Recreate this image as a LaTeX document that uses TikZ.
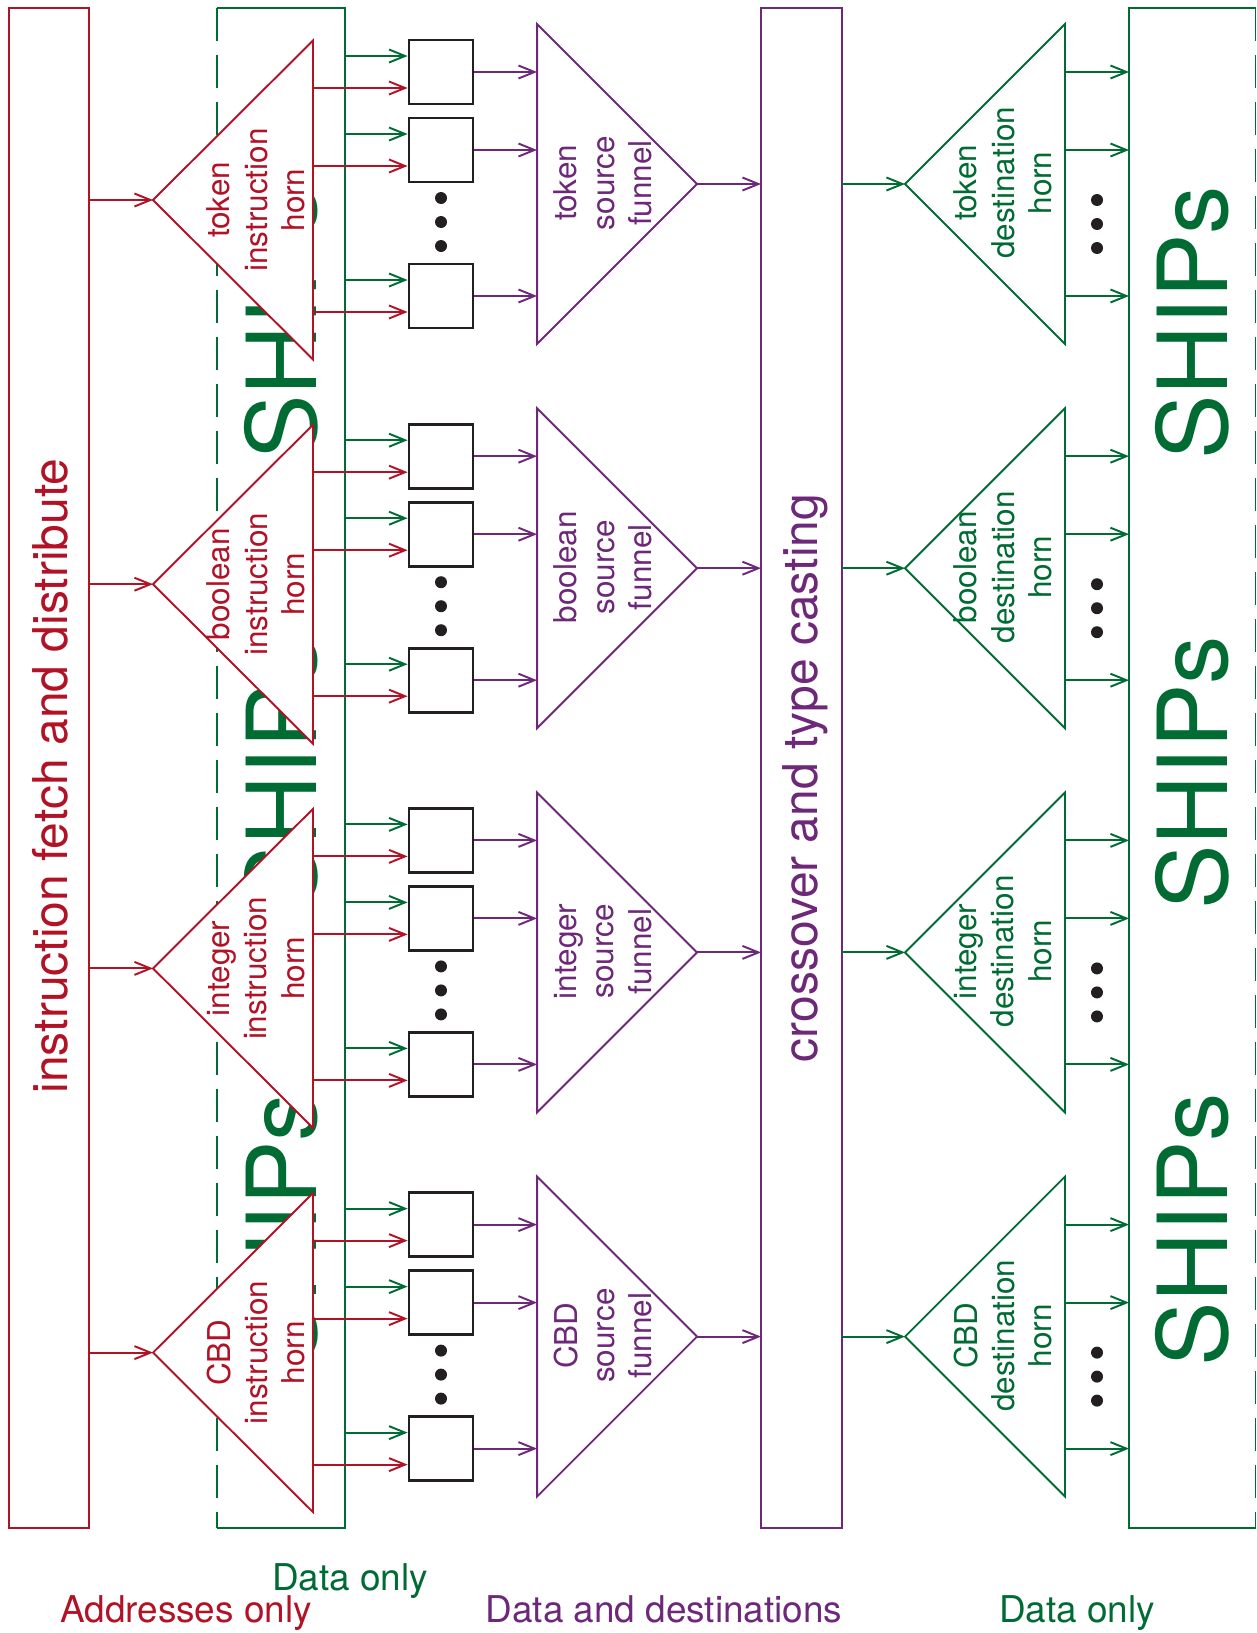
\documentclass[tikz,border=0pt]{standalone}
\usepackage{fontspec}
\setmainfont{TeX Gyre Heros}
\usepackage{tikz}
\usetikzlibrary{arrows.meta, positioning, shapes.geometric}
\definecolor{addrred}{RGB}{178,18,38}
\definecolor{datagreen}{RGB}{0,107,51}
\definecolor{destpurple}{RGB}{110,40,122}
\definecolor{slotgray}{RGB}{35,31,32}

\begin{document}
\begin{tikzpicture}[x=0.02cm, y=-0.02cm,
  wire/.style={line width=1.1pt, -{Straight Barb[length=0.32cm, width=0.26cm]}},
  addr/.style={wire, addrred},
  data/.style={wire, datagreen},
  dest/.style={wire, destpurple},
  bigbox/.style={rectangle, minimum height=30.4cm, inner sep=0, outer sep=0, line width=1.1pt},
  slot/.style={rectangle, draw=slotgray, line width=1.6pt, minimum size=1.28cm, inner sep=0},
  dot/.style={circle, fill=slotgray, inner sep=0, minimum size=0.24cm},
  tri/.style={isosceles triangle, isosceles triangle stretches, inner sep=0, outer sep=0,
              minimum height=3.2cm, minimum width=6.4cm, line width=1.1pt, fill=white},
  ihorn/.style={tri, draw=addrred, shape border rotate=180, minimum width=6.38cm},
  funnel/.style={tri, draw=destpurple},
  dhorn/.style={tri, draw=datagreen, shape border rotate=180},
  trilab/.style={rotate=90, align=center, font=\fontsize{17.9}{21.3}\selectfont},
  biglab/.style={rotate=90, font=\fontsize{27.3}{32}\selectfont},
  ships/.style={rotate=90, text=datagreen, font=\fontsize{55}{60}\selectfont},
  foot/.style={anchor=base, font=\fontsize{21}{25}\selectfont}
]
\useasboundingbox (0,0) rectangle (1257,1633);

% the four long boxes
\node[bigbox, draw=addrred, minimum width=1.6cm] (fetch) at (49, 768) {};
\node[biglab, text=addrred] (fetchl) at (50, 776) {instruction fetch and distribute};

\node[bigbox, minimum width=2.56cm] (lships) at (281, 768) {};
\draw[datagreen, line width=1.1pt] (lships.north west) -| (lships.south east) -- (lships.south west);
\draw[datagreen, line width=1.1pt, dash pattern=on 0.66cm off 0.28cm] (lships.north west) -- (lships.south west);

\node[bigbox, draw=destpurple, minimum width=1.62cm] (cross) at (801.5, 768) {};
\node[biglab, text=destpurple] (crossl) at (805, 778) {crossover and type casting};

\node[bigbox, minimum width=2.53cm] (rships) at (1192.25, 768) {};
\draw[datagreen, line width=1.1pt] (rships.north east) -| (rships.south west) -- (rships.south east);
\draw[datagreen, line width=1.1pt, dash pattern=on 0.66cm off 0.28cm] (rships.north east) -- (rships.south east);

\foreach \s [count=\i] in {323, 773, 1230} {
  \node[ships] (lsh\i) at (281, \s) {SHIPs};
  \node[ships] (rsh\i) at (1192, \s) {SHIPs};
}

% one row of horn, slots, funnel and destination horn per type
\foreach \grp/\nm in {0/token, 1/boolean, 2/integer, 3/CBD} {
  \pgfmathsetmacro{\dy}{384.2*\grp}
  \node[ihorn, anchor=apex] (ih\grp) at (153, 200+\dy) {};
  \node[trilab, text=addrred] (ihl\grp) at (256, 200+\dy) {\nm\\instruction\\horn};
  \node[funnel, anchor=apex] (sf\grp) at (697, 184+\dy) {};
  \node[trilab, text=destpurple] (sfl\grp) at (603, 183+\dy) {\nm\\source\\funnel};
  \node[dhorn, anchor=apex] (dh\grp) at (905, 184+\dy) {};
  \node[trilab, text=datagreen] (dhl\grp) at (1003, 183+\dy) {\nm\\destination\\horn};

  \draw[addr] (fetch.east |- ih\grp.apex) -- (ih\grp.apex);
  \draw[dest] (sf\grp.apex) -- (cross.west |- sf\grp.apex);
  \draw[data] (cross.east |- dh\grp.apex) -- (dh\grp.apex);

  \foreach \bx/\yy in {1/72, 2/150, 3/296} {
    \node[slot] (b\grp\bx) at (441, \yy+\dy) {};
    \coordinate (gi\grp\bx) at ([yshift=0.32cm]b\grp\bx.west);
    \coordinate (ri\grp\bx) at ([yshift=-0.32cm]b\grp\bx.west);
    \draw[data] (lships.east |- gi\grp\bx) -- (gi\grp\bx);
    \draw[addr] (ih\grp.lower side |- ri\grp\bx) -- (ri\grp\bx);
    \draw[dest] (b\grp\bx.east) -- (sf\grp.lower side |- b\grp\bx.east);
    \draw[data] (dh\grp.lower side |- b\grp\bx.east) -- (rships.west |- b\grp\bx.east);
  }
  \foreach \bx in {0,1,2} {
    \node[dot] (sd\grp\bx) at (441, 198+24*\bx+\dy) {};
    \node[dot] (dd\grp\bx) at (1097, 200+24*\bx+\dy) {};
  }
}

\node[foot, text=datagreen] (fdata) at (350, 1590) {Data only};
\node[foot, text=addrred] (faddr) at (186, 1622) {Addresses only};
\node[foot, text=destpurple] (fdest) at (664, 1622) {Data and destinations};
\node[foot, text=datagreen] (fdata2) at (1077, 1622) {Data only};
\end{tikzpicture}
\end{document}
